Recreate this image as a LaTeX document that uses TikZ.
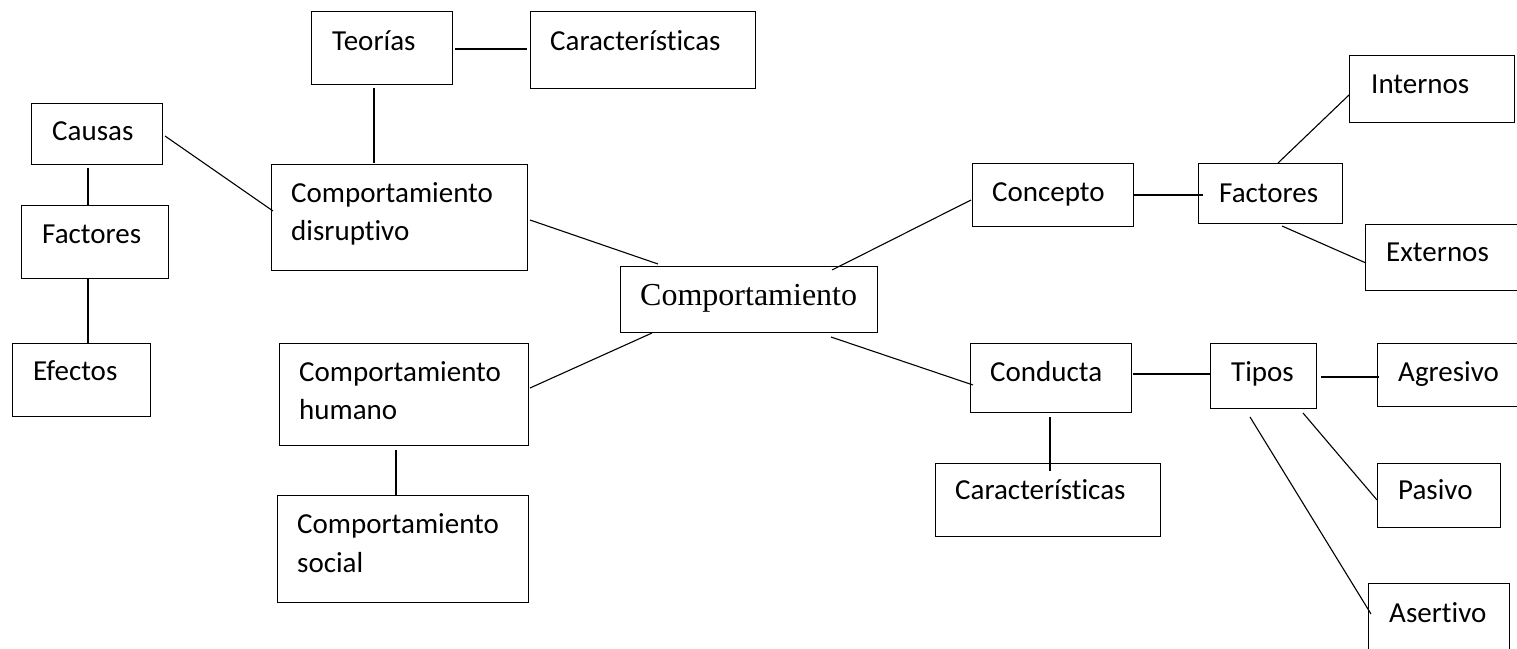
\documentclass[tikz,border=0pt]{standalone}
\usepackage{fontspec}
\setmainfont{Carlito}[Ligatures=NoCommon]
\newfontfamily\tnr{Liberation Serif}
\usetikzlibrary{calc}
\tikzset{
  box/.style={draw, line width=1.2pt, rectangle, inner sep=0pt, anchor=north west},
  lbl/.style={anchor=base west, inner sep=0pt, font=\fontsize{29}{35}\selectfont},
  conn/.style={line width=1.1pt}
}
\begin{document}
\begin{tikzpicture}[x=1pt,y=-1pt]
\useasboundingbox (0,0) rectangle (1517,648);
\clip (0,0) rectangle (1517,648);
% boxes
\node[box, minimum width=141pt, minimum height=73pt] (teo) at (311,11) {};
\node[box, minimum width=225pt, minimum height=77pt] (carT) at (530,11) {};
\node[box, minimum width=131pt, minimum height=61pt] (cau) at (31,103) {};
\node[box, minimum width=256pt, minimum height=106pt] (cd) at (271,164) {};
\node[box, minimum width=147pt, minimum height=73pt] (facL) at (21,205) {};
\node[box, minimum width=138pt, minimum height=73pt] (efe) at (12,343) {};
\node[box, minimum width=257pt, minimum height=66pt] (comp) at (620,266) {};
\node[box, minimum width=249pt, minimum height=102pt] (ch) at (279,343) {};
\node[box, minimum width=251pt, minimum height=107pt] (cs) at (277,495) {};
\node[box, minimum width=161pt, minimum height=63pt] (con) at (972,163) {};
\node[box, minimum width=144pt, minimum height=60pt] (facR) at (1198,163) {};
\node[box, minimum width=165pt, minimum height=67pt] (int) at (1349,55) {};
\node[box, minimum width=165pt, minimum height=66pt] (ext) at (1365,224) {};
\node[box, minimum width=161pt, minimum height=69pt] (cond) at (970,343) {};
\node[box, minimum width=225pt, minimum height=73pt] (carB) at (935,463) {};
\node[box, minimum width=106pt, minimum height=65pt] (tip) at (1210,343) {};
\node[box, minimum width=165pt, minimum height=63pt] (agr) at (1377,343) {};
\node[box, minimum width=123pt, minimum height=64pt] (pas) at (1377,463) {};
\node[box, minimum width=141pt, minimum height=80pt] (ase) at (1368,583) {};
% texts
\node[lbl] (tteo) at (332,50) {Teorías};
\node[lbl] (tcarT) at (550,50) {Características};
\node[lbl] (tcau) at (52,140) {Causas};
\node[lbl] (tcd1) at (291,202) {Comportamiento};
\node[lbl] (tcd2) at (291,240) {disruptivo};
\node[lbl] (tfacL) at (42,243) {Factores};
\node[lbl] (tefe) at (33,380) {Efectos};
\node[anchor=base west, inner sep=0pt, font=\tnr\fontsize{32}{38}\selectfont] (tcomp) at (640,305) {Comportamiento};
\node[lbl] (tch1) at (299,381) {Comportamiento};
\node[lbl] (tch2) at (299,419) {humano};
\node[lbl] (tcs1) at (297,533) {Comportamiento};
\node[lbl] (tcs2) at (297,572) {social};
\node[lbl] (tcon) at (992,201) {Concepto};
\node[lbl] (tfacR) at (1219,202) {Factores};
\node[lbl] (tint) at (1371,93) {Internos};
\node[lbl] (text) at (1386,261) {Externos};
\node[lbl] (tcond) at (990,381) {Conducta};
\node[lbl] (tcarB) at (955,499) {Características};
\node[lbl] (ttip) at (1231,381) {Tipos};
\node[lbl] (tagr) at (1398,381) {Agresivo};
\node[lbl] (tpas) at (1398,499) {Pasivo};
\node[lbl] (tase) at (1389,622) {Asertivo};
% connectors
\draw[conn] ($(teo.north west)+(144,38)$) -- ($(carT.north west)+(-3,38)$);
\draw[conn] ($(teo.north west)+(63,77)$) -- ($(cd.north west)+(103,-1)$);
\draw[conn] ($(cau.north west)+(134,33)$) -- ($(cd.north west)+(2,47)$);
\draw[conn] ($(cau.north west)+(57,65)$) -- ($(facL.north west)+(67,0)$);
\draw[conn] ($(facL.north west)+(67,73)$) -- ($(efe.north west)+(76,0)$);
\draw[conn] ($(cd.north west)+(259,56)$) -- ($(comp.north west)+(38,-2)$);
\draw[conn] ($(ch.north west)+(251,45)$) -- ($(comp.north west)+(32,67)$);
\draw[conn] ($(ch.north west)+(117,107)$) -- ($(cs.north west)+(119,0)$);
\draw[conn] ($(comp.north west)+(212,4)$) -- ($(con.north west)+(-1,37)$);
\draw[conn] ($(con.north west)+(161,32)$) -- ($(facR.north west)+(5,32)$);
\draw[conn] ($(facR.north west)+(80,0)$) -- ($(int.north west)+(0,40)$);
\draw[conn] ($(facR.north west)+(84,63)$) -- ($(ext.north west)+(1,39)$);
\draw[conn] ($(comp.north west)+(211,71)$) -- ($(cond.north west)+(3,42)$);
\draw[conn] ($(cond.north west)+(163,31)$) -- ($(tip.north west)+(0,31)$);
\draw[conn] ($(cond.north west)+(80,74)$) -- ($(carB.north west)+(115,8)$);
\draw[conn] ($(tip.north west)+(111,34)$) -- ($(agr.north west)+(2,34)$);
\draw[conn] ($(tip.north west)+(93,70)$) -- ($(pas.north west)+(0,37)$);
\draw[conn] ($(tip.north west)+(40,74)$) -- ($(ase.north west)+(3,31)$);
\end{tikzpicture}
\end{document}
